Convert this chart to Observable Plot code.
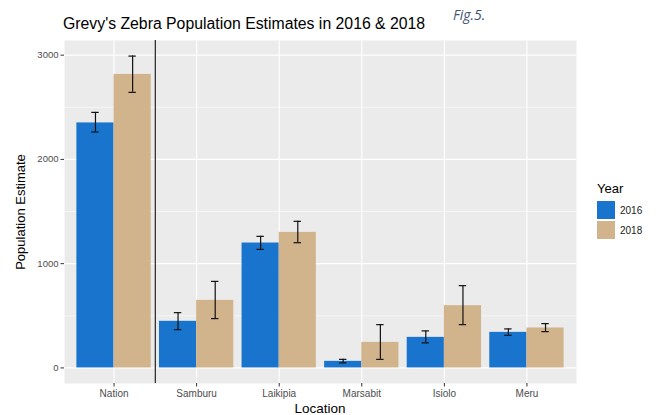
<!DOCTYPE html>
<html>
<head>
<meta charset="utf-8">
<script src="https://cdn.jsdelivr.net/npm/d3@7"></script>
<script src="https://cdn.jsdelivr.net/npm/@observablehq/plot@0.6"></script>
<style>
  body { margin: 0; background: #fff; font-family: "Liberation Sans", sans-serif; }
  #chart { position: relative; width: 656px; height: 415px; overflow: hidden; }
  #chart svg { position: absolute; left: 0; top: 0; }
  .lbl { position: absolute; line-height: 1; white-space: nowrap; }
  .title { left: 63px; top: 16px; font-size: 15.8px; color: #000; }
  .fig { left: 453px; top: 7.5px; font-size: 14px; color: #3E5275; font-style: italic; font-family: "Open Sans", "Noto Sans", sans-serif; }
  .xtitle { left: 320px; top: 401.5px; font-size: 13.5px; color: #000; transform: translateX(-50%); }
  .ytitle { left: 20px; top: 211.5px; font-size: 13px; color: #000; transform: translate(-50%, -50%) rotate(-90deg); }
  .legend { position: absolute; left: 597px; top: 182px; }
  .legend .head { font-size: 13px; color: #000; line-height: 1; margin-bottom: 6px; }
  .legend .row { display: flex; align-items: center; height: 18px; margin-bottom: 2px; }
  .legend .sw { width: 18px; height: 18px; margin-right: 5px; }
  .legend .txt { font-size: 10px; color: #1a1a1a; }
</style>
</head>
<body>
<div id="chart">
  <div class="lbl title">Grevy's Zebra Population Estimates in 2016 &amp; 2018</div>
  <div class="lbl fig">Fig.5.</div>
  <div class="lbl xtitle">Location</div>
  <div class="lbl ytitle">Population Estimate</div>
</div>
<script>
// Survey locations and years
const locations = ["Nation", "Samburu", "Laikipia", "Marsabit", "Isiolo", "Meru"];
const years = ["2016", "2018"];
const yearColors = ["#1874CD", "#D2B48C"];

// Population estimates with lower / upper confidence limits
const est2016  = [2350, 447, 1198, 63, 293, 341];
const low2016  = [2263, 367, 1137, 48, 240, 313];
const high2016 = [2451, 530, 1262, 82, 355, 374];

const est2018  = [2815, 648, 1300, 245, 597, 383];
const low2018  = [2643, 473, 1201, 82, 415, 348];
const high2018 = [2991, 830, 1406, 415, 789, 425];

// Axis ticks
const yTicks = [0, 1000, 2000, 3000];
const yMinor = [500, 1500, 2500];
const xTicks = locations.map((d, i) => i + 1);

// Dodged layout: each location occupies one unit; two bars share 0.9 of it
const dodge = 0.9;
const barW = dodge / years.length;
const capHalf = 0.045;

const rows = [];
locations.forEach((loc, i) => {
  [[est2016, low2016, high2016], [est2018, low2018, high2018]].forEach(([e, lo, hi], k) => {
    const x1 = i + 1 - dodge / 2 + k * barW;
    rows.push({ location: loc, year: years[k], est: e[i], low: lo[i], high: hi[i], x1, x2: x1 + barW, xc: x1 + barW / 2 });
  });
});

// y limits padded by 5% of the data range, as in the default ggplot expansion
const yMax = d3.max(rows, d => d.high);
const pad = yMax * 0.05;

const chart = Plot.plot({
  width: 656,
  height: 415,
  marginLeft: 64,
  marginRight: 80,
  marginTop: 40,
  marginBottom: 32,
  style: { fontFamily: '"Liberation Sans", sans-serif', background: "transparent", overflow: "visible" },
  x: { type: "linear", domain: [0.4, locations.length + 0.6], axis: null },
  y: { domain: [-pad, yMax + pad], axis: null },
  color: { domain: years, range: yearColors },
  marks: [
    Plot.frame({ fill: "#EBEBEB", stroke: null }),
    Plot.gridY(yMinor, { stroke: "#fff", strokeOpacity: 1, strokeWidth: 0.55 }),
    Plot.gridY(yTicks, { stroke: "#fff", strokeOpacity: 1, strokeWidth: 1.1 }),
    Plot.gridX(xTicks, { stroke: "#fff", strokeOpacity: 1, strokeWidth: 1.1 }),
    Plot.rect(rows, { x1: "x1", x2: "x2", y1: 0, y2: "est", fill: "year" }),
    Plot.ruleX([1.5], { stroke: "#333", strokeWidth: 1.3 }),
    Plot.ruleX(rows, { x: "xc", y1: "low", y2: "high", stroke: "#111", strokeWidth: 1.2 }),
    Plot.ruleY(rows, { y: "high", x1: d => d.xc - capHalf, x2: d => d.xc + capHalf, stroke: "#111", strokeWidth: 1.2 }),
    Plot.ruleY(rows, { y: "low", x1: d => d.xc - capHalf, x2: d => d.xc + capHalf, stroke: "#111", strokeWidth: 1.2 }),
    Plot.axisY(yTicks, { label: null, tickSize: 3.5, tickPadding: 2.5, fontSize: 9.5, tickFormat: d => String(d), stroke: "#333", fill: "#4D4D4D" }),
    Plot.axisX(xTicks, { label: null, tickSize: 3.5, tickPadding: 3, fontSize: 10, tickFormat: i => locations[i - 1], stroke: "#333", fill: "#4D4D4D" })
  ]
});

const host = document.getElementById("chart");
host.insertBefore(chart, host.firstChild);

// Fill legend for the year colours
const legend = document.createElement("div");
legend.className = "legend";
legend.innerHTML = `<div class="head">Year</div>` +
  years.map((y, k) => `<div class="row"><div class="sw" style="background:${yearColors[k]}"></div><div class="txt">${y}</div></div>`).join("");
host.appendChild(legend);
</script>
</body>
</html>
